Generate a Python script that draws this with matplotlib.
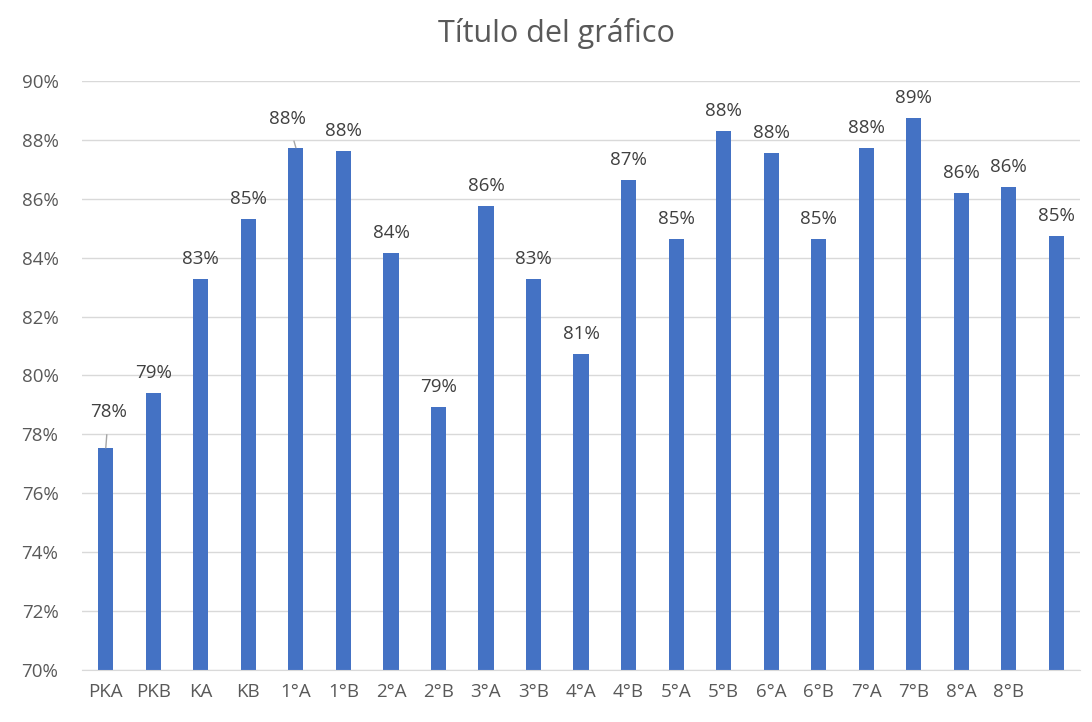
import matplotlib.pyplot as plt
from matplotlib.ticker import PercentFormatter

plt.rcParams['font.family'] = ['Open Sans', 'DejaVu Sans']

cursos = ['PKA', 'PKB', 'KA', 'KB', '1°A', '1°B', '2°A', '2°B', '3°A', '3°B',
          '4°A', '4°B', '5°A', '5°B', '6°A', '6°B', '7°A', '7°B', '8°A', '8°B', '']
valores = [77.54, 79.41, 83.28, 85.31, 87.73, 87.62, 84.16, 78.93, 85.76, 83.28,
           80.73, 86.64, 84.63, 88.30, 87.56, 84.63, 87.73, 88.74, 86.20, 86.40, 84.74]

# etiquetas movidas a mano (indice: desplazamiento en puntos)
movidas = {0: (2, 26), 4: (-6, 21)}

gris = '#595959'
fig = plt.figure(figsize=(10.92, 7.22), dpi=100)
ax = fig.add_axes([0.0751, 0.072, 0.914, 0.816])

x = range(len(cursos))
ax.bar(x, valores, width=0.32, color='#4472C4', zorder=2)

for i, v in enumerate(valores):
    dx, dy = movidas.get(i, (0, 14.5))
    arrow = None
    if i in movidas:
        arrow = dict(arrowstyle='-', color='#A6A6A6', lw=1,
                     shrinkA=8, shrinkB=0)
    ax.annotate(f'{v:.0f}%', (i, v), xytext=(dx, dy), textcoords='offset points',
                ha='center', va='center', fontsize=13.5, color='#404040',
                arrowprops=arrow)

ax.set_xlim(-0.5, len(cursos) - 0.5)
ax.set_ylim(70, 90)
ax.set_yticks(range(70, 91, 2))
ax.yaxis.set_major_formatter(PercentFormatter(decimals=0))
ax.set_xticks(list(x))
ax.set_xticklabels(cursos)
ax.tick_params(axis='both', length=0, labelsize=13.5, colors=gris)
ax.tick_params(axis='x', pad=9)
ax.tick_params(axis='y', pad=17)
ax.grid(axis='y', color='#D9D9D9', lw=1, zorder=0)
for s in ['top', 'right', 'left']:
    ax.spines[s].set_visible(False)
ax.spines['bottom'].set_color('#D9D9D9')

fig.suptitle('Título del gráfico', x=0.51, y=0.975, fontsize=22, color=gris)

fig.savefig('out.png', dpi=100)
